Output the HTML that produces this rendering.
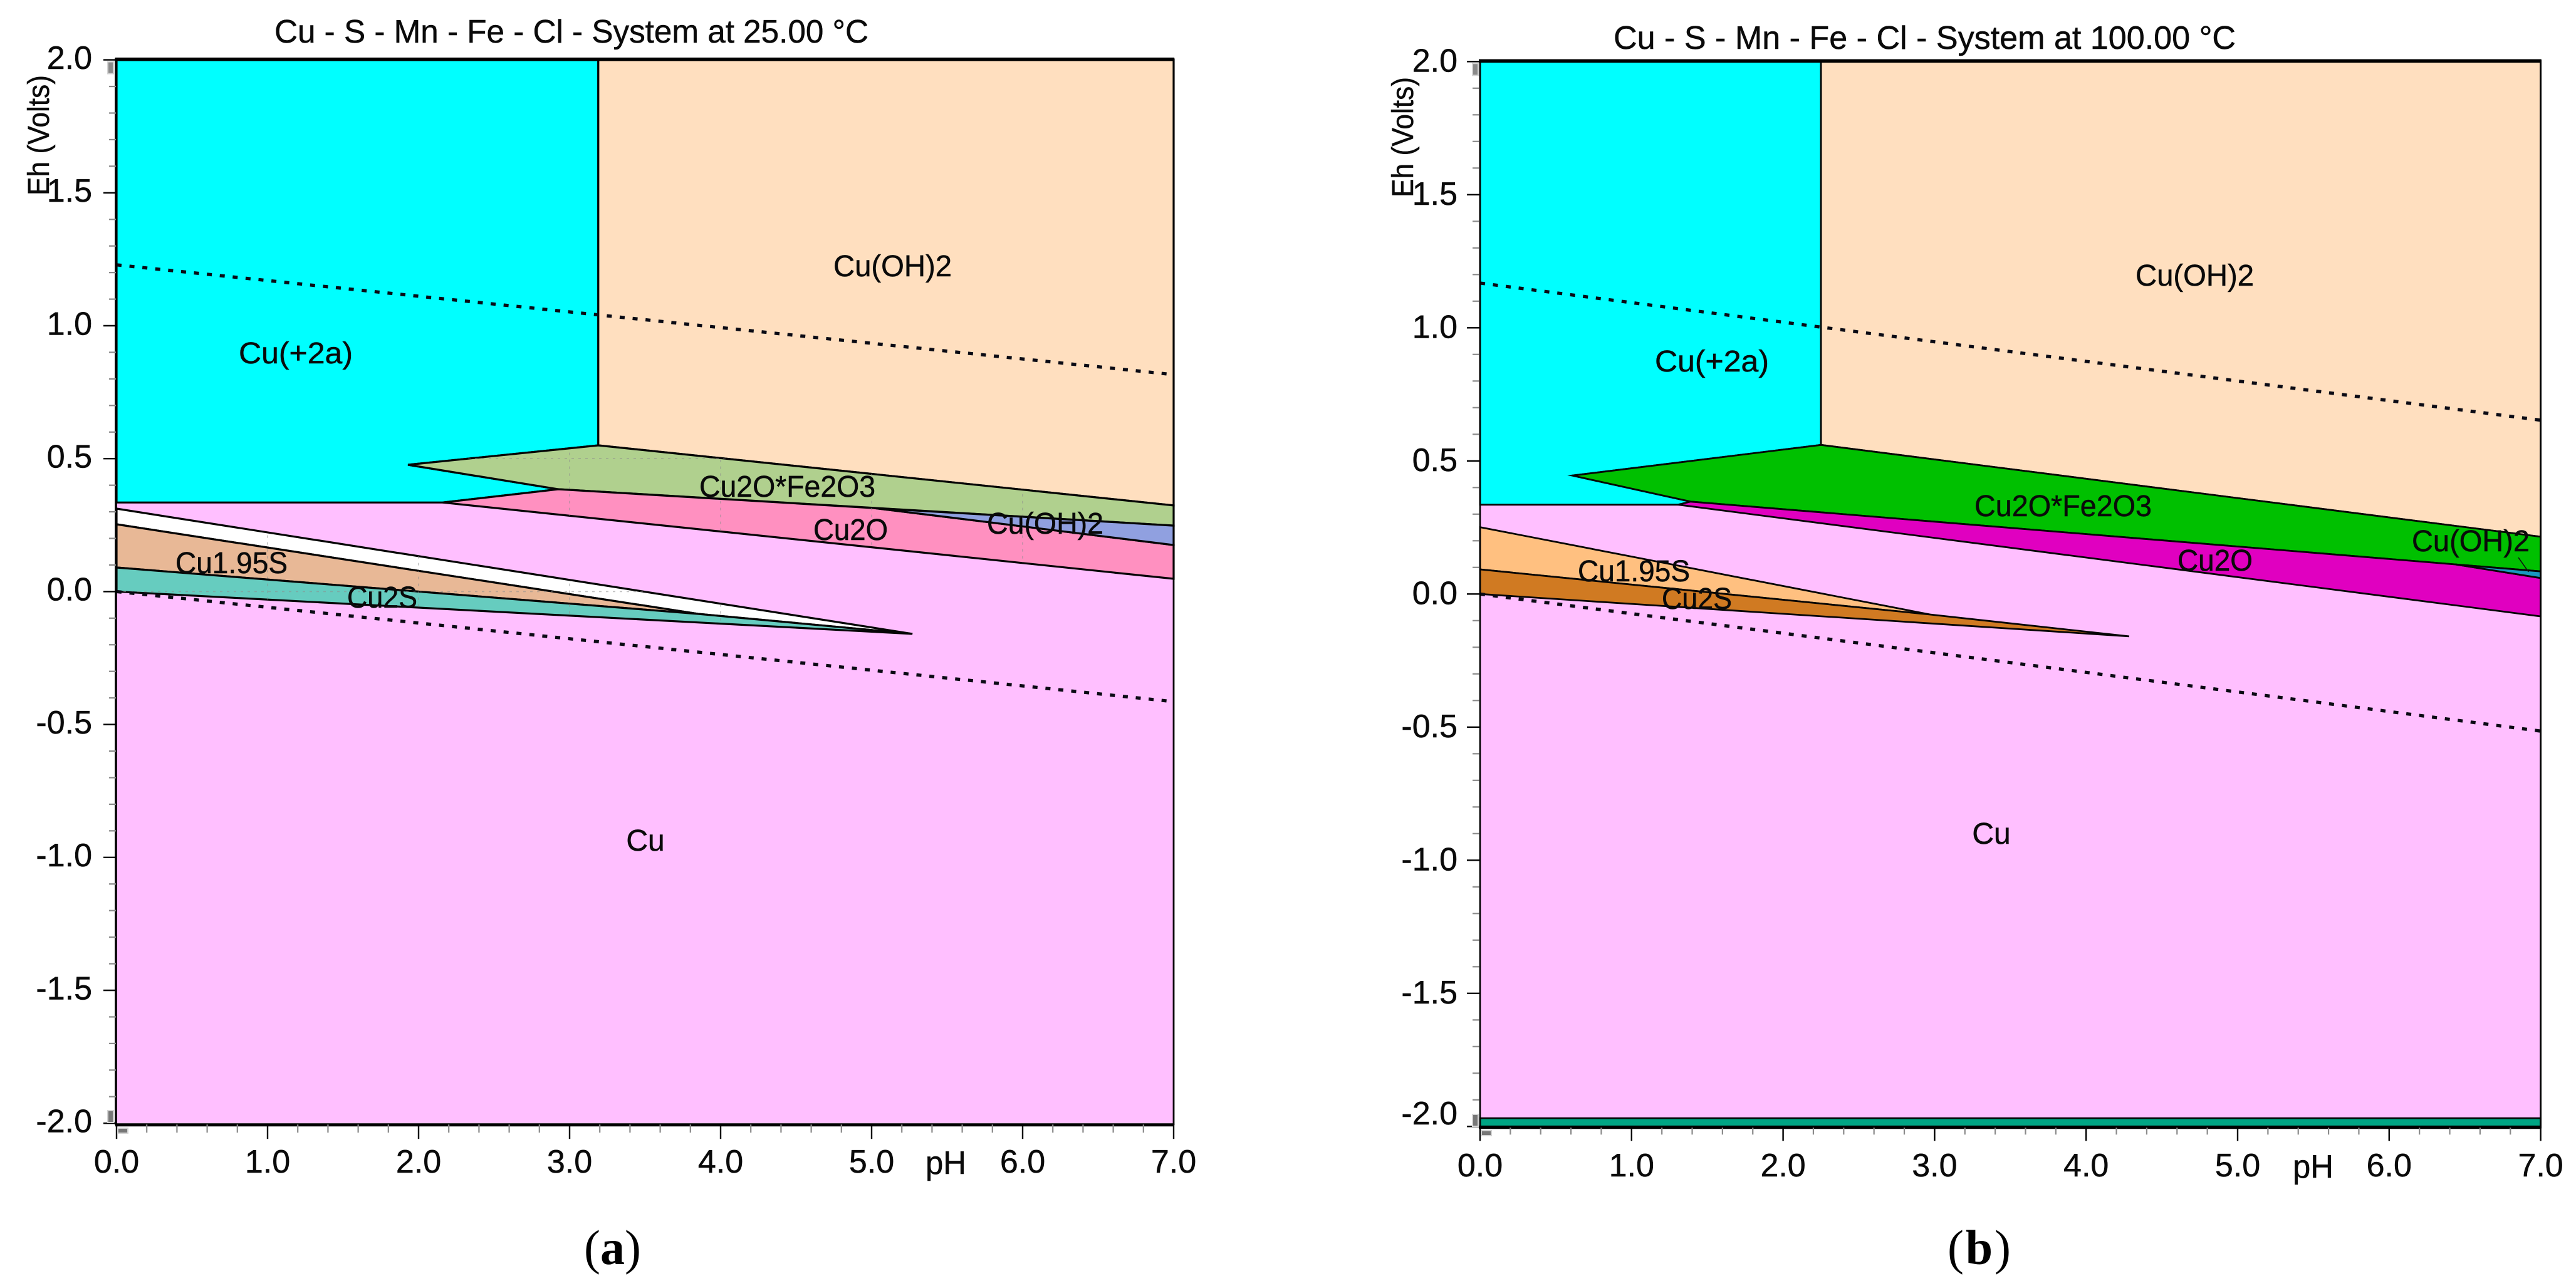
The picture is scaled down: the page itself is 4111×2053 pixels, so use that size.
<!DOCTYPE html>
<html lang="en">
<head>
<meta charset="utf-8">
<title>Eh-pH diagrams: Cu - S - Mn - Fe - Cl</title>
<style>
html,body{margin:0;padding:0;background:#fff;}
svg{display:block;}
text{font-family:"Liberation Sans",sans-serif;fill:#0a0a0a;stroke:#0a0a0a;stroke-width:0.5px;}
.tick{font-size:52px;}
.reg{font-size:48px;}
.ttl{font-size:52px;}
.ylab{font-size:48px;}
.cap{font-family:"Liberation Serif",serif;font-size:78px;fill:#000;stroke:none;}
</style>
</head>
<body>
<svg id="figure" xmlns="http://www.w3.org/2000/svg" width="4111" height="2053" viewBox="0 0 4111 2053">
  <rect x="0" y="0" width="4111" height="2053" fill="#ffffff"/>

  <g id="panel-a">
    <g id="marks-a"></g>
    <g id="axes-a"></g>
    <text class="ttl" x="438" y="68" textLength="948" lengthAdjust="spacingAndGlyphs">Cu - S - Mn - Fe - Cl - System at 25.00 °C</text>
    <text class="ylab" transform="translate(78,312) rotate(-90)" textLength="192" lengthAdjust="spacingAndGlyphs">Eh (Volts)</text>
    <text class="tick" x="1477" y="1874" textLength="65" lengthAdjust="spacingAndGlyphs">pH</text>
    <text class="reg" x="381" y="580" textLength="182" lengthAdjust="spacingAndGlyphs">Cu(+2a)</text>
    <text class="reg" x="1330" y="441" textLength="189" lengthAdjust="spacingAndGlyphs">Cu(OH)2</text>
    <text class="reg" x="1116" y="793" textLength="281" lengthAdjust="spacingAndGlyphs">Cu2O*Fe2O3</text>
    <text class="reg" x="1298" y="862" textLength="119" lengthAdjust="spacingAndGlyphs">Cu2O</text>
    <text class="reg" x="1575" y="852" textLength="186" lengthAdjust="spacingAndGlyphs">Cu(OH)2</text>
    <text class="reg" x="280" y="915" textLength="179" lengthAdjust="spacingAndGlyphs">Cu1.95S</text>
    <text class="reg" x="554" y="970" textLength="112" lengthAdjust="spacingAndGlyphs">Cu2S</text>
    <text class="reg" x="1030" y="1358" text-anchor="middle">Cu</text>
    <text class="cap" x="932" y="2018">(<tspan font-weight="bold">a</tspan>)</text>
  </g>

  <g id="panel-b">
    <g id="marks-b"></g>
    <g id="axes-b"></g>
    <text class="ttl" x="2575" y="78" textLength="993" lengthAdjust="spacingAndGlyphs">Cu - S - Mn - Fe - Cl - System at 100.00 °C</text>
    <text class="ylab" transform="translate(2255,315) rotate(-90)" textLength="192" lengthAdjust="spacingAndGlyphs">Eh (Volts)</text>
    <text class="tick" x="3659" y="1880" textLength="65" lengthAdjust="spacingAndGlyphs">pH</text>
    <text class="reg" x="2641" y="593" textLength="182" lengthAdjust="spacingAndGlyphs">Cu(+2a)</text>
    <text class="reg" x="3408" y="456" textLength="189" lengthAdjust="spacingAndGlyphs">Cu(OH)2</text>
    <text class="reg" x="3151" y="824" textLength="283" lengthAdjust="spacingAndGlyphs">Cu2O*Fe2O3</text>
    <text class="reg" x="3475" y="911" textLength="120" lengthAdjust="spacingAndGlyphs">Cu2O</text>
    <text class="reg" x="3849" y="880" textLength="188" lengthAdjust="spacingAndGlyphs">Cu(OH)2</text>
    <text class="reg" x="2518" y="928" textLength="179" lengthAdjust="spacingAndGlyphs">Cu1.95S</text>
    <text class="reg" x="2652" y="972" textLength="112" lengthAdjust="spacingAndGlyphs">Cu2S</text>
    <text class="reg" x="3178" y="1347" text-anchor="middle">Cu</text>
    <text class="cap" x="3108" y="2018" textLength="101" lengthAdjust="spacing">(<tspan font-weight="bold">b</tspan>)</text>
  </g>
</svg>

<script>
// Shared axis data
const phTickValues = [0, 1, 2, 3, 4, 5, 6, 7];
const phTickLabels = ['0.0', '1.0', '2.0', '3.0', '4.0', '5.0', '6.0', '7.0'];
const ehTickValues = [2, 1.5, 1, 0.5, 0, -0.5, -1, -1.5, -2];
const ehTickLabels = ['2.0', '1.5', '1.0', '0.5', '0.0', '-0.5', '-1.0', '-1.5', '-2.0'];

// Panel (a), 25 C: stability fields, vertex values in pH and Eh
const fieldNamesA = ['cu', 'cu-2a', 'cu-oh2', 'cu2o-fe2o3', 'cu2o', 'cu-oh2-sliver', 'undefined-wedge', 'cu195s', 'cu2s'];
const fieldPhA = [
  [0, 7, 7, 0],
  [0, 3.19, 3.19, 1.93, 2.925, 2.16, 0],
  [3.19, 7, 7, 3.19],
  [1.93, 3.19, 7, 7, 2.925],
  [2.16, 2.925, 5.017, 7, 7],
  [5.017, 7, 7],
  [0, 5.27, 3.85, 0],
  [0, 3.85, 0],
  [0, 3.85, 5.27, 0]
];
const fieldEhA = [
  [2, 2, -2, -2],
  [2, 2, 0.55, 0.477, 0.385, 0.335, 0.335],
  [2, 2, 0.324, 0.55],
  [0.477, 0.55, 0.324, 0.248, 0.385],
  [0.335, 0.385, 0.314, 0.175, 0.048],
  [0.314, 0.248, 0.175],
  [0.312, -0.159, -0.084, 0.253],
  [0.253, -0.084, 0.0905],
  [0.0905, -0.084, -0.159, 0]
];
const waterUpperPhA = [0, 7];
const waterUpperEhA = [1.229, 0.816];
const waterLowerPhA = [0, 7];
const waterLowerEhA = [0, -0.414];

// Panel (b), 100 C
const fieldNamesB = ['cu', 'bottom-band', 'cu-2a', 'cu-oh2', 'cu2o-fe2o3', 'cu2o', 'cu-oh2-sliver', 'cu195s', 'cu2s'];
const fieldPhB = [
  [0, 7, 7, 0],
  [0, 7, 7, 0],
  [0, 2.25, 2.25, 0.61, 1.39, 1.307, 0],
  [2.25, 7, 7, 2.25],
  [0.61, 2.25, 7, 7, 1.39],
  [1.307, 1.39, 6.44, 7, 7],
  [6.44, 7, 7],
  [0, 2.97, 0],
  [0, 2.97, 4.284, 0]
];
const fieldEhB = [
  [2, 2, -2, -2],
  [-1.969, -1.969, -2, -2],
  [2, 2, 0.56, 0.445, 0.347, 0.3355, 0.3355],
  [2, 2, 0.215, 0.56],
  [0.445, 0.56, 0.215, 0.085, 0.347],
  [0.3355, 0.347, 0.111, 0.06, -0.084],
  [0.111, 0.085, 0.06],
  [0.251, -0.077, 0.0925],
  [0.0925, -0.077, -0.159, 0]
];
const waterUpperPhB = [0, 7];
const waterUpperEhB = [1.168, 0.653];
const waterLowerPhB = [0, 7];
const waterLowerEhB = [0, -0.515];
const leaderPhB = [6.853, 6.92];
const leaderEhB = [0.137, 0.083];

const fieldColorsA = ['#ffbfff', '#00ffff', '#ffdfbf', '#b0d08e', '#ff90c0', '#90a0e0', '#ffffff', '#e8b896', '#66ccbf'];
const fieldColorsB = ['#ffbfff', '#00a584', '#00ffff', '#ffdfbf', '#00c000', '#e000c0', '#1898c0', '#ffc080', '#d07a22'];

const SVGNS = 'http://www.w3.org/2000/svg';

function make(tag, attrs, parent) {
  const el = document.createElementNS(SVGNS, tag);
  for (const k in attrs) el.setAttribute(k, attrs[k]);
  parent.appendChild(el);
  return el;
}

function drawPanel(cfg) {
  const xScale = ph => cfg.x0 + cfg.xUnit * ph;
  const yScale = eh => cfg.y0 - cfg.yUnit * eh;
  const marks = document.getElementById(cfg.marksId);
  const axes = document.getElementById(cfg.axesId);

  // stability fields
  cfg.names.forEach((name, i) => {
    const pts = cfg.ph[i].map((p, j) => xScale(p).toFixed(1) + ',' + yScale(cfg.eh[i][j]).toFixed(1)).join(' ');
    const poly = make('polygon', {
      points: pts,
      fill: cfg.colors[i],
      stroke: i === 0 ? 'none' : '#050505',
      'stroke-width': cfg.stroke,
      'stroke-linejoin': 'miter',
      'stroke-miterlimit': 6
    }, marks);
    
    

    // faint gridlines showing through some fields
    if (cfg.gridFields.indexOf(name) >= 0) {
      const clipId = cfg.marksId + '-clip-' + i;
      const defs = make('clipPath', { id: clipId }, marks);
      make('polygon', { points: pts }, defs);
      const g = make('g', { 'clip-path': 'url(#' + clipId + ')', stroke: '#8c8c8c', 'stroke-opacity': 0.55, 'stroke-width': 1.6, 'stroke-dasharray': '4 7', fill: 'none' }, marks);
      
      
      phTickValues.forEach(v => make('line', { x1: xScale(v), x2: xScale(v), y1: yScale(2), y2: yScale(-2) }, g));
      ehTickValues.forEach(v => make('line', { x1: xScale(0), x2: xScale(7), y1: yScale(v), y2: yScale(v) }, g));
    }
  });

  // water stability lines
  [[cfg.waterUpperPh, cfg.waterUpperEh, 'water-upper-line'], [cfg.waterLowerPh, cfg.waterLowerEh, 'water-lower-line']].forEach(w => {
    const line = make('line', {
      x1: xScale(w[0][0]), y1: yScale(w[1][0]), x2: xScale(w[0][1]), y2: yScale(w[1][1]),
      stroke: '#0a0a14', 'stroke-width': 5.2, 'stroke-dasharray': '8 12.7'
    }, marks);
    
    
  });

  if (cfg.leaderPh) {
    const leader = make('line', {
      x1: xScale(cfg.leaderPh[0]), y1: yScale(cfg.leaderEh[0]), x2: xScale(cfg.leaderPh[1]), y2: yScale(cfg.leaderEh[1]),
      stroke: '#111', 'stroke-width': 1.6
    }, marks);
    
    
  }

  // plot frame
  const left = xScale(0), right = xScale(7), top = yScale(2), bottom = yScale(-2);
  const frameLines = [
    ['frame-top', left - 2, top - 1, right + 1, top - 1, cfg.topW],
    ['frame-bottom', left - 2, bottom + cfg.bottomShift, right + 1, bottom + cfg.bottomShift, cfg.bottomW],
    ['frame-left', left - cfg.leftShift, top - 3, left - cfg.leftShift, bottom + 3, cfg.leftW],
    ['frame-right', right, top - 3, right, bottom + 3, 2.8]
  ];
  frameLines.forEach(f => {
    const line = make('line', { x1: f[1], y1: f[2], x2: f[3], y2: f[4], stroke: '#000', 'stroke-width': f[5] }, axes);
    
    
  });

  // x ticks
  phTickValues.forEach((v, i) => {
    const x = xScale(v);
    const tick = make('line', { x1: x, x2: x, y1: bottom + 2, y2: bottom + cfg.xMajorLen, stroke: '#000', 'stroke-width': 2.4 }, axes);
    
    
    const label = make('text', { class: 'tick', x: x, y: cfg.xLabelY, 'text-anchor': 'middle' }, axes);
    label.textContent = phTickLabels[i];
    
    
    if (i < phTickValues.length - 1) {
      for (let m = 1; m < 5; m++) {
        const mx = xScale(v + m / 5);
        const minor = make('line', { x1: mx, x2: mx, y1: bottom + 2, y2: bottom + cfg.xMinorLen, stroke: '#8a8a8a', 'stroke-width': 2.2 }, axes);
        
        
      }
    }
  });

  // y ticks
  ehTickValues.forEach((v, i) => {
    const y = yScale(v);
    const tick = make('line', { x1: left - 21, x2: left - 1, y1: y, y2: y, stroke: '#000', 'stroke-width': 2.4 }, axes);
    
    
    const label = make('text', { class: 'tick', x: cfg.yLabelRight, y: Math.min(y + cfg.yLabelDy, cfg.yLabelMax), 'text-anchor': 'end' }, axes);
    label.textContent = ehTickLabels[i];
    
    
    if (i < ehTickValues.length - 1) {
      for (let m = 1; m < 5; m++) {
        const my = yScale(v - m / 10);
        const minor = make('line', { x1: left - 12, x2: left - 1, y1: my, y2: my, stroke: '#8a8a8a', 'stroke-width': 2.2 }, axes);
        
        
      }
    }
  });

  // grey resize handles left by the plotting software
  const handleTop = make('rect', { x: cfg.handleX, y: top + 3, width: 9, height: 19, fill: '#8a8a8a', stroke: '#d4d4d4', 'stroke-width': 2 }, axes);
  
  
  const handleBottom = make('rect', { x: cfg.handleX, y: cfg.handleBottomY, width: 9, height: 19, fill: '#777', stroke: '#d4d4d4', 'stroke-width': 2 }, axes);
  
  
  const handleCorner = make('rect', { x: left + 2, y: cfg.handleCornerY, width: 16, height: 8, fill: '#777', stroke: '#d4d4d4', 'stroke-width': 2 }, axes);
  
  
}

drawPanel({
  marksId: 'marks-a', axesId: 'axes-a',
  x0: 186, xUnit: 241, y0: 944.4, yUnit: 424.4,
  names: fieldNamesA, ph: fieldPhA, eh: fieldEhA, colors: fieldColorsA,
  gridFields: ['cu2o-fe2o3', 'cu2o', 'cu-oh2-sliver', 'undefined-wedge', 'cu195s', 'cu2s'],
  waterUpperPh: waterUpperPhA, waterUpperEh: waterUpperEhA,
  waterLowerPh: waterLowerPhA, waterLowerEh: waterLowerEhA,
  stroke: 3.2, topW: 5.5, bottomW: 5, bottomShift: 2.5, leftW: 3.6, leftShift: 1,
  xMajorLen: 25, xMinorLen: 15, xLabelY: 1872,
  yLabelRight: 147, yLabelDy: 14.3, yLabelMax: 3000,
  handleX: 172, handleBottomY: 1773, handleCornerY: 1801
});

drawPanel({
  marksId: 'marks-b', axesId: 'axes-b',
  x0: 2362, xUnit: 241.8, y0: 948.3, yUnit: 425,
  names: fieldNamesB, ph: fieldPhB, eh: fieldEhB, colors: fieldColorsB,
  gridFields: [],
  waterUpperPh: waterUpperPhB, waterUpperEh: waterUpperEhB,
  waterLowerPh: waterLowerPhB, waterLowerEh: waterLowerEhB,
  leaderPh: leaderPhB, leaderEh: leaderEhB,
  stroke: 2.8, topW: 5.5, bottomW: 5, bottomShift: 1.5, leftW: 2.6, leftShift: 0,
  xMajorLen: 23, xMinorLen: 13, xLabelY: 1878,
  yLabelRight: 2326, yLabelDy: 16, yLabelMax: 1795,
  handleX: 2350, handleBottomY: 1779, handleCornerY: 1805
});
</script>
</body>
</html>
